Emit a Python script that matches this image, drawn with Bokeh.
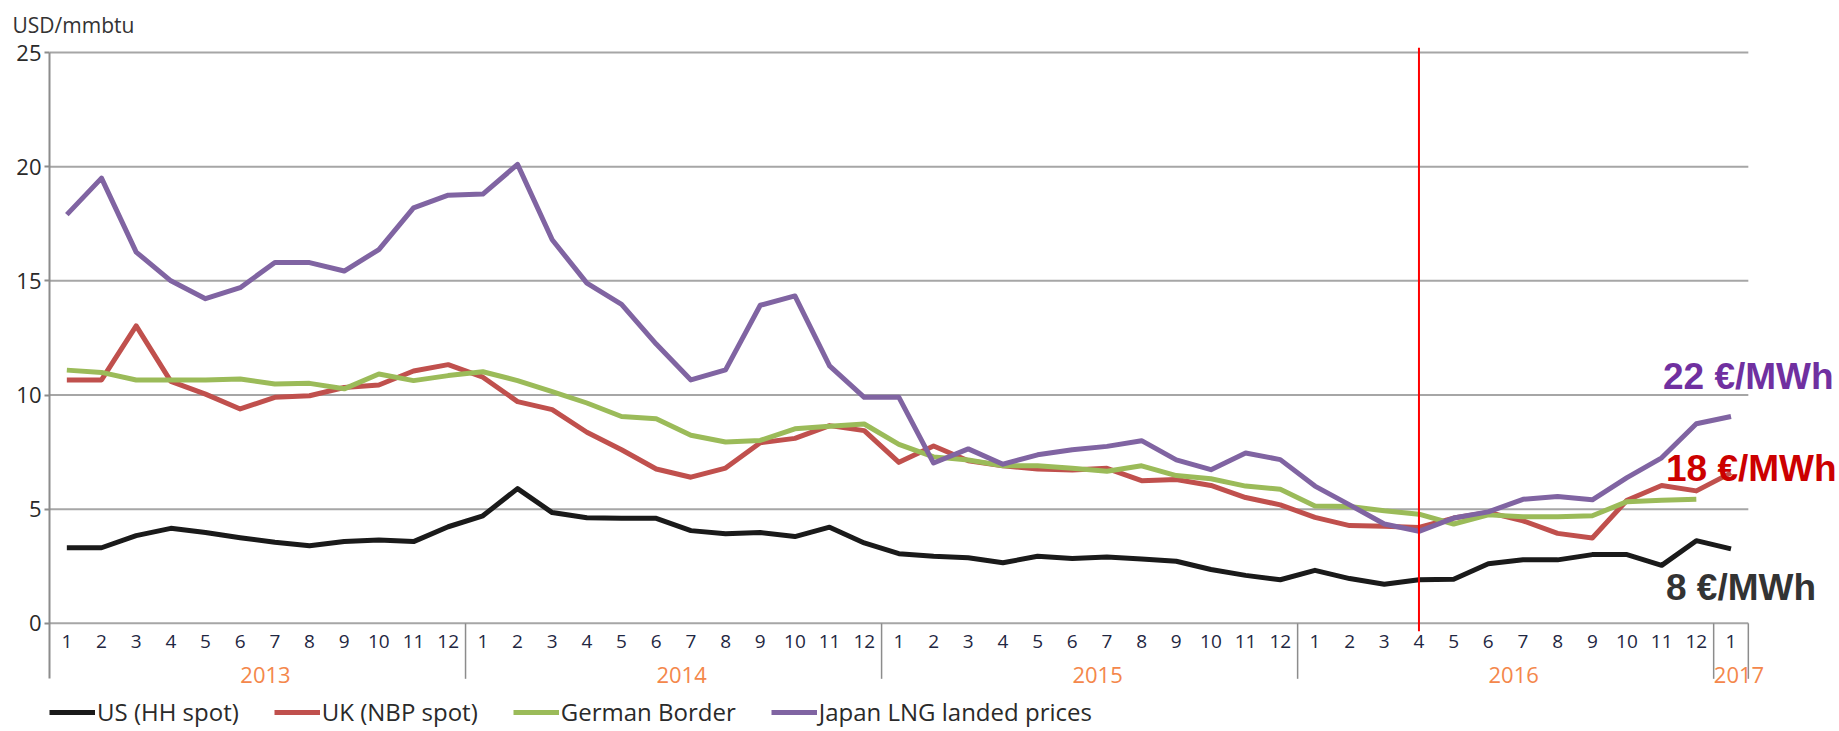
import numpy as np
from bokeh.plotting import figure
from bokeh.models import (Range1d, FixedTicker, Legend, LegendItem, Label, Title)
from bokeh.core.properties import value
from bokeh.embed import file_html
from bokeh.resources import INLINE

# ---------------- data ----------------
years = [2013] * 12 + [2014] * 12 + [2015] * 12 + [2016] * 12 + [2017]
months = list(range(1, 13)) * 4 + [1]

us_hh = [3.31, 3.31, 3.84, 4.16, 3.98, 3.75, 3.55, 3.40, 3.58, 3.65, 3.58, 4.23,
         4.71, 5.90, 4.85, 4.62, 4.60, 4.60, 4.06, 3.92, 3.98, 3.80, 4.21, 3.52,
         3.05, 2.94, 2.87, 2.65, 2.94, 2.84, 2.91, 2.82, 2.72, 2.36, 2.10, 1.91,
         2.32, 1.96, 1.71, 1.91, 1.93, 2.61, 2.78, 2.78, 3.01, 3.01, 2.54, 3.62,
         3.26]
uk_nbp = [10.66, 10.66, 13.03, 10.60, 10.04, 9.39, 9.90, 9.97, 10.33, 10.44, 11.05, 11.33,
          10.78, 9.71, 9.36, 8.37, 7.60, 6.76, 6.40, 6.80, 7.91, 8.10, 8.66, 8.44,
          7.05, 7.77, 7.12, 6.90, 6.76, 6.72, 6.79, 6.25, 6.30, 6.04, 5.51, 5.19,
          4.64, 4.28, 4.25, 4.20, 4.61, 4.86, 4.49, 3.94, 3.74, 5.39, 6.04, 5.80,
          6.59]
german = [11.09, 10.99, 10.66, 10.66, 10.66, 10.70, 10.48, 10.51, 10.27, 10.92, 10.63, 10.85,
          11.02, 10.63, 10.15, 9.65, 9.06, 8.96, 8.24, 7.94, 8.01, 8.52, 8.63, 8.73,
          7.84, 7.29, 7.15, 6.90, 6.90, 6.79, 6.66, 6.90, 6.47, 6.33, 6.01, 5.87,
          5.14, 5.12, 4.93, 4.78, 4.35, 4.75, 4.67, 4.67, 4.71, 5.33, 5.39, 5.43,
          float("nan")]
japan = [17.90, 19.50, 16.26, 15.00, 14.22, 14.70, 15.80, 15.80, 15.43, 16.37, 18.20, 18.75,
         18.80, 20.10, 16.80, 14.90, 13.97, 12.23, 10.66, 11.10, 13.93, 14.34, 11.28, 9.90,
         9.90, 7.02, 7.64, 6.97, 7.38, 7.60, 7.75, 8.00, 7.16, 6.73, 7.46, 7.17,
         6.01, 5.19, 4.35, 4.03, 4.61, 4.88, 5.43, 5.55, 5.41, 6.38, 7.25, 8.74,
         9.06]

series_names = ["US (HH spot)", "UK (NBP spot)", "German Border", "Japan LNG landed prices"]
series_colors = ["#1a1a1a", "#C0504D", "#9BBB59", "#8064A2"]
y_ticks = [0, 5, 10, 15, 20, 25]
marker_year, marker_month = 2016, 4
end_labels = ["22 €/MWh", "18 €/MWh", "8 €/MWh"]
end_label_values = [10.83, 6.78, 1.57]
end_label_colors = ["#7030A0", "#CC0000", "#333333"]

# ---------------- derived ----------------
x = np.arange(len(months))
year_list = sorted(set(years))
year_centers = [float(np.mean([i for i, y in enumerate(years) if y == yr])) for yr in year_list]
inner_bounds = [i + 0.5 for i in range(len(years) - 1) if years[i] != years[i + 1]] + [len(years) - 0.5]
marker_idx = [i for i in range(len(years)) if years[i] == marker_year and months[i] == marker_month][0]
last_idx = len(months) - 1
x_lo, x_hi = x[0] - 0.5, x[-1] + 0.5

FONT = "Open Sans"
GRID = "#a6a6a6"
DIV = "#8c8c8c"

W, H = 1836, 728
LEFT, TOP = 49, 42
PX_Y = 23.0      # px per price unit
PX_X = 34.67     # px per month
Y_TOP = 25.22
Y_BOTTOM = Y_TOP - (H - TOP) / PX_Y
X_RIGHT = x_lo + (W - LEFT) / PX_X

MONTH_Y = -0.78
YEAR_Y = -2.26
DIV_BOTTOM = -2.43

p = figure(width=W, height=H, output_backend="svg", toolbar_location=None,
           x_range=Range1d(x_lo, X_RIGHT), y_range=Range1d(Y_BOTTOM, Y_TOP),
           x_axis_location=None,
           min_border_left=LEFT, min_border_right=0, min_border_top=TOP, min_border_bottom=0,
           outline_line_color=None, background_fill_color="white", border_fill_color="white")

p.title = Title(text="USD/mmbtu", align="left", offset=-37, standoff=17,
                text_font=FONT, text_font_size="21px", text_font_style="normal",
                text_color="#333333")

p.xgrid.visible = False
p.ygrid.visible = False

# horizontal grid lines, limited to the data's month span
p.segment(x0=[x_lo] * len(y_ticks), x1=[x_hi] * len(y_ticks), y0=y_ticks, y1=y_ticks,
          line_color=GRID, line_width=2)

# y axis
ya = p.yaxis[0]
ya.ticker = FixedTicker(ticks=y_ticks)
ya.bounds = (DIV_BOTTOM, y_ticks[-1])
ya.axis_line_color = DIV
ya.axis_line_width = 2
ya.major_tick_line_color = DIV
ya.major_tick_line_width = 2
ya.major_tick_out = 5
ya.major_tick_in = 0
ya.minor_tick_line_color = None
ya.major_label_standoff = 3
ya.major_label_text_font = FONT
ya.major_label_text_font_size = "22px"
ya.major_label_text_color = "#2a2a2a"

# year dividers below the zero line
p.segment(x0=inner_bounds, x1=inner_bounds, y0=[0] * len(inner_bounds),
          y1=[DIV_BOTTOM] * len(inner_bounds), line_color=DIV, line_width=1.5)

# month and year labels
p.text(x=x, y=[MONTH_Y] * len(x), text=[str(m) for m in months],
       text_font=value(FONT), text_font_size="19px", text_color="#1f2742",
       text_align="center", text_baseline="middle")
p.text(x=year_centers, y=[YEAR_Y] * len(year_centers), text=[str(y) for y in year_list],
       x_offset=8, text_font=value(FONT), text_font_size="22px", text_color="#F4874B",
       text_align="center", text_baseline="middle")

# series
data = [us_hh, uk_nbp, german, japan]
renderers = []
for vals, col in zip(data, series_colors):
    r = p.line(x, vals, line_color=col, line_width=5, line_join="round")
    renderers.append(r)

# red marker line
p.segment(x0=[marker_idx], x1=[marker_idx], y0=[-0.35], y1=[Y_TOP],
          line_color="#FF0000", line_width=2)

# end labels
offsets = [-68, -65, -65]
for txt, val, col, off in zip(end_labels, end_label_values, end_label_colors, offsets):
    p.add_layout(Label(x=int(last_idx), y=val, x_offset=off, text=txt, text_color=col,
                       text_font="Liberation Sans", text_font_style="bold",
                       text_font_size="37px", text_baseline="middle", text_align="left"))

legend = Legend(items=[LegendItem(label=n, renderers=[r]) for n, r in zip(series_names, renderers)],
                orientation="horizontal", location=(0, 0),
                label_text_font=FONT, label_text_font_size="24px", label_text_color="#2a2a2a",
                glyph_width=46, glyph_height=22, label_height=22, label_standoff=2,
                spacing=35, padding=0, margin=0, border_line_color=None,
                background_fill_alpha=0)
p.add_layout(legend)

open("out.html", "w").write(file_html(p, INLINE))
